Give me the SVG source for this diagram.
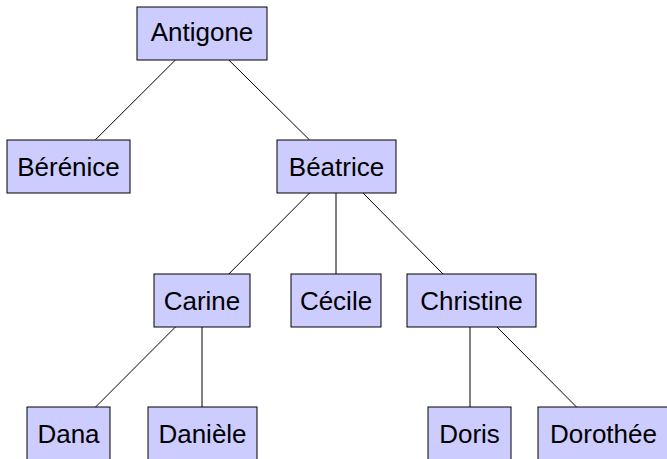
<svg xmlns="http://www.w3.org/2000/svg" width="667" height="459" viewBox="0 0 667 459">
<style>
.box{fill:#ccccff;stroke:#000;stroke-width:1}
.lbl{font-family:"Liberation Sans",Arial,sans-serif;font-size:26px;fill:#000;text-anchor:middle}
.edge{stroke:#000;stroke-width:1;fill:none}
</style>
<rect width="667" height="459" fill="#fff"/>
<g id="connectors">
<line class="edge" x1="175.4" y1="60" x2="95.2" y2="140"/>
<line class="edge" x1="228.8" y1="60" x2="309.6" y2="140"/>
<line class="edge" x1="309.6" y1="193" x2="228.8" y2="274"/>
<line class="edge" x1="336" y1="193" x2="336" y2="274"/>
<line class="edge" x1="363" y1="193" x2="443" y2="274"/>
<line class="edge" x1="175.4" y1="327" x2="95.6" y2="407"/>
<line class="edge" x1="202" y1="327" x2="202" y2="407"/>
<line class="edge" x1="470" y1="327" x2="470" y2="407"/>
<line class="edge" x1="497" y1="327" x2="576.5" y2="407"/>
</g>
<g id="antigone"><rect class="box" x="137" y="7" width="130" height="53"/><text class="lbl" x="202" y="41">Antigone</text></g>
<g id="berenice"><rect class="box" x="7" y="140" width="123" height="53"/><text class="lbl" x="68.5" y="176">Bérénice</text></g>
<g id="beatrice"><rect class="box" x="277" y="140" width="119" height="53"/><text class="lbl" x="336.5" y="176">Béatrice</text></g>
<g id="carine"><rect class="box" x="154" y="274" width="96" height="53"/><text class="lbl" x="202" y="310">Carine</text></g>
<g id="cecile"><rect class="box" x="291" y="274" width="90" height="53"/><text class="lbl" x="336" y="310">Cécile</text></g>
<g id="christine"><rect class="box" x="407" y="274" width="129" height="53"/><text class="lbl" x="471.5" y="310">Christine</text></g>
<g id="dana"><rect class="box" x="27" y="407" width="83" height="53"/><text class="lbl" x="68.5" y="443">Dana</text></g>
<g id="daniele"><rect class="box" x="148" y="407" width="109" height="53"/><text class="lbl" x="202.5" y="443">Danièle</text></g>
<g id="doris"><rect class="box" x="428" y="407" width="83" height="53"/><text class="lbl" x="469.5" y="443">Doris</text></g>
<g id="dorothee"><rect class="box" x="538" y="407" width="131" height="53"/><text class="lbl" x="603.5" y="443">Dorothée</text></g>
</svg>
